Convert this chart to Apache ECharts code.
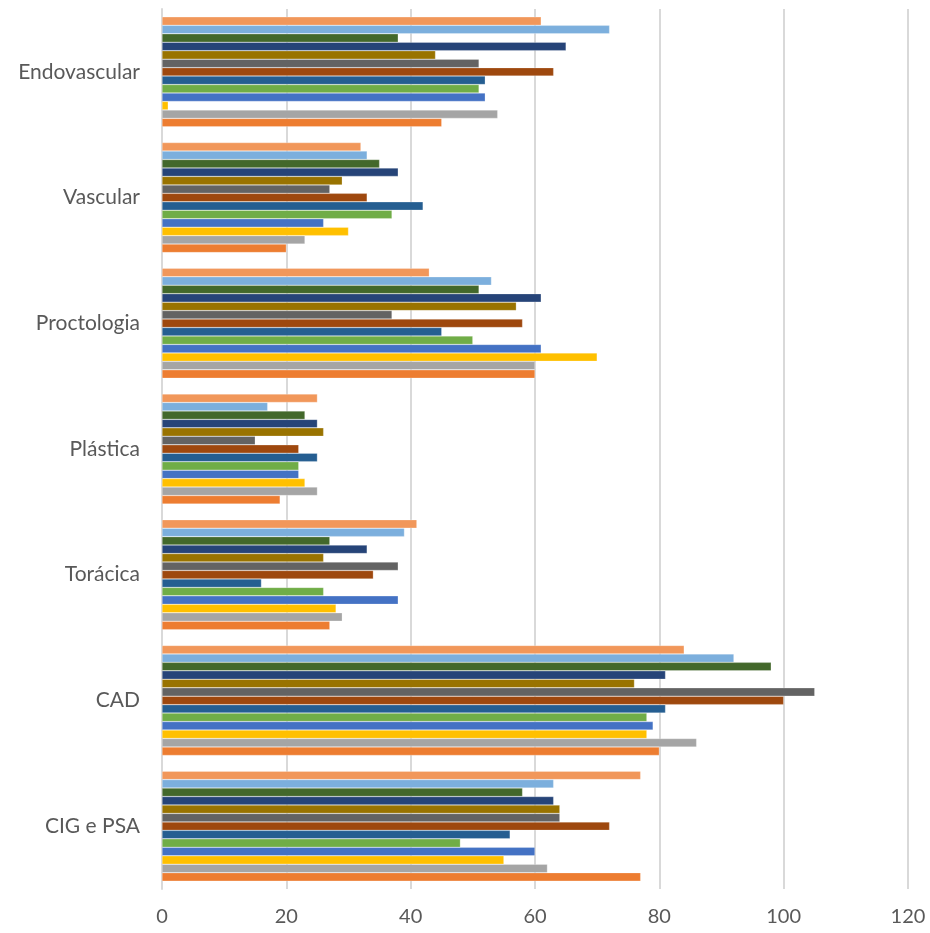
<!DOCTYPE html>
<html>
<head>
<meta charset="utf-8">
<script src="https://cdn.jsdelivr.net/npm/echarts@6/dist/echarts.min.js"></script>
<style>html,body{margin:0;padding:0;background:#fff}#c{width:930px;height:933px}</style>
</head>
<body>
<div id="c"></div>
<script>
const categories = ['CIG e PSA', 'CAD', 'Torácica', 'Plástica', 'Proctologia', 'Vascular', 'Endovascular'];
const xTicks = [0, 20, 40, 60, 80, 100, 120];
// one array per series, values follow the categories order
const s1  = [77, 80, 27, 19, 60, 20, 45];
const s2  = [62, 86, 29, 25, 60, 23, 54];
const s3  = [55, 78, 28, 23, 70, 30, 1];
const s4  = [60, 79, 38, 22, 61, 26, 52];
const s5  = [48, 78, 26, 22, 50, 37, 51];
const s6  = [56, 81, 16, 25, 45, 42, 52];
const s7  = [72, 100, 34, 22, 58, 33, 63];
const s8  = [64, 105, 38, 15, 37, 27, 51];
const s9  = [64, 76, 26, 26, 57, 29, 44];
const s10 = [63, 81, 33, 25, 61, 38, 65];
const s11 = [58, 98, 27, 23, 51, 35, 38];
const s12 = [63, 92, 39, 17, 53, 33, 72];
const s13 = [77, 84, 41, 25, 43, 32, 61];
const seriesData = [s1, s2, s3, s4, s5, s6, s7, s8, s9, s10, s11, s12, s13];
const seriesNames = ['S1','S2','S3','S4','S5','S6','S7','S8','S9','S10','S11','S12','S13'];
const colors = ['#ED7D31','#A5A5A5','#FFC000','#4472C4','#70AD47','#255E91','#9E480E','#636363','#997300','#264478','#43682B','#7CAFDD','#F1975A'];

// ECharts stacks bars of a horizontal group top-down, Excel bottom-up: add series in reverse
const order = seriesData.map((_, i) => i).reverse();

const chart = echarts.init(document.getElementById('c'));
chart.setOption({
  animation: false,
  textStyle: { fontFamily: 'Lato' },
  grid: { left: 162, right: 22, top: 9, bottom: 44 },
  xAxis: {
    type: 'value', min: xTicks[0], max: xTicks[xTicks.length - 1], interval: 20,
    axisLine: { show: false }, axisTick: { show: false },
    axisLabel: { color: '#595959', fontSize: 20, margin: 18 },
    splitLine: { lineStyle: { color: '#D9D9D9', width: 2 } }
  },
  yAxis: {
    type: 'category', data: categories,
    axisLine: { show: true, lineStyle: { color: '#D9D9D9', width: 2 } },
    axisTick: { show: false },
    axisLabel: { color: '#595959', fontSize: 21, margin: 22 }
  },
  series: order.map(i => ({
    type: 'bar', name: seriesNames[i], data: seriesData[i],
    barCategoryGap: '12.5%', barGap: '0%',
    itemStyle: { color: colors[i], borderColor: 'rgba(255,255,255,0.5)', borderWidth: 0.5 }
  }))
});
</script>
</body>
</html>
